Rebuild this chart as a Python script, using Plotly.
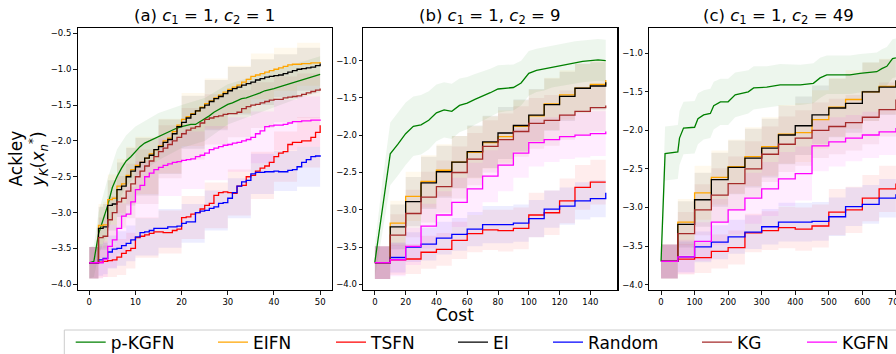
import plotly.graph_objects as go

# ---------------- data ----------------
METHODS = ["p-KGFN", "EIFN", "TSFN", "EI", "Random", "KG", "KGFN"]
COLORS = ["#008000", "#FFA500", "#FF0000", "#000000", "#0000FF", "#A52A2A", "#FF00FF"]

# panel (a): c1 = 1, c2 = 1
A_X = list(range(0, 51))
A_PKGFN = [-3.70, -3.68, -3.30, -3.10, -2.90, -2.65, -2.50, -2.38, -2.28, -2.22,
           -2.15, -2.08, -2.03, -2.00, -1.97, -1.94, -1.90, -1.87, -1.85, -1.82,
           -1.80, -1.78, -1.77, -1.77, -1.73, -1.70, -1.65, -1.60, -1.56, -1.52,
           -1.49, -1.47, -1.44, -1.41, -1.40, -1.38, -1.35, -1.33, -1.30, -1.29,
           -1.27, -1.25, -1.23, -1.21, -1.18, -1.16, -1.14, -1.12, -1.10, -1.09, -1.07]
A_EIFN = [-3.70, -3.70, -3.18, -3.17, -2.82, -2.80, -2.63, -2.60, -2.48, -2.40,
          -2.34, -2.30, -2.24, -2.18, -2.12, -2.07, -2.00, -1.96, -1.87, -1.78,
          -1.70, -1.66, -1.62, -1.58, -1.53, -1.48, -1.44, -1.40, -1.36, -1.32,
          -1.28, -1.25, -1.22, -1.18, -1.14, -1.10, -1.08, -1.06, -1.04, -1.02,
          -1.00, -0.98, -0.96, -0.94, -0.93, -0.93, -0.92, -0.92, -0.91, -0.91, -0.90]
A_TSFN = [-3.70, -3.70, -3.69, -3.68, -3.67, -3.66, -3.62, -3.57, -3.53, -3.50,
          -3.35, -3.33, -3.31, -3.29, -3.27, -3.27, -3.28, -3.28, -3.25, -3.23,
          -3.07, -3.06, -3.02, -3.00, -2.95, -2.90, -2.87, -2.76, -2.72, -2.71,
          -2.72, -2.73, -2.63, -2.62, -2.50, -2.48, -2.42, -2.38, -2.35, -2.30,
          -2.22, -2.17, -2.15, -2.05, -2.02, -2.02, -2.00, -2.00, -1.95, -1.88, -1.78]
A_EI = [-3.70, -3.70, -3.22, -3.20, -2.90, -2.88, -2.68, -2.63, -2.50, -2.42,
        -2.36, -2.30, -2.24, -2.20, -2.12, -2.08, -2.02, -1.98, -1.90, -1.80,
        -1.74, -1.68, -1.63, -1.58, -1.54, -1.50, -1.45, -1.41, -1.38, -1.34,
        -1.30, -1.27, -1.25, -1.22, -1.20, -1.18, -1.15, -1.13, -1.11, -1.10,
        -1.09, -1.08, -1.06, -1.04, -1.02, -1.00, -0.99, -0.98, -0.97, -0.95, -0.92]
A_RANDOM = [-3.70, -3.70, -3.66, -3.64, -3.55, -3.51, -3.50, -3.46, -3.43, -3.38,
            -3.34, -3.28, -3.27, -3.25, -3.22, -3.22, -3.22, -3.20, -3.20, -3.19,
            -3.15, -3.13, -3.13, -3.00, -2.98, -2.97, -2.94, -2.92, -2.87, -2.86,
            -2.80, -2.72, -2.63, -2.57, -2.55, -2.46, -2.44, -2.44, -2.43, -2.43,
            -2.42, -2.43, -2.43, -2.41, -2.40, -2.36, -2.30, -2.26, -2.22, -2.21, -2.20]
A_KG = [-3.70, -3.70, -3.35, -3.33, -3.10, -3.00, -2.85, -2.80, -2.70, -2.60,
        -2.50, -2.42, -2.35, -2.28, -2.22, -2.15, -2.10, -2.05, -2.00, -1.95,
        -1.90, -1.85, -1.82, -1.80, -1.75, -1.70, -1.68, -1.66, -1.65, -1.63,
        -1.62, -1.62, -1.60, -1.55, -1.52, -1.50, -1.49, -1.47, -1.45, -1.43,
        -1.42, -1.42, -1.40, -1.39, -1.38, -1.37, -1.35, -1.33, -1.31, -1.29, -1.27]
A_KGFN = [-3.70, -3.70, -3.70, -3.65, -3.47, -3.38, -3.22, -3.05, -3.02, -2.85,
          -2.68, -2.62, -2.50, -2.45, -2.40, -2.37, -2.34, -2.32, -2.30, -2.29,
          -2.27, -2.26, -2.25, -2.22, -2.20, -2.17, -2.12, -2.10, -2.08, -2.06,
          -2.05, -2.03, -2.02, -2.00, -1.98, -1.95, -1.90, -1.86, -1.80, -1.79,
          -1.78, -1.78, -1.77, -1.75, -1.73, -1.73, -1.72, -1.72, -1.71, -1.71, -1.70]
# standard deviations of panel (a), read at these costs
A_SD_X = [0, 1, 2, 3, 4, 6, 8, 10, 15, 20, 25, 30, 35, 40, 45, 50]
A_PKGFN_SD = [0.22, 0.22, 0.30, 0.35, 0.38, 0.38, 0.36, 0.35, 0.33, 0.30, 0.30, 0.28, 0.27, 0.26, 0.25, 0.25]
A_EIFN_SD = [0.22, 0.22, 0.30, 0.32, 0.35, 0.38, 0.40, 0.40, 0.38, 0.37, 0.35, 0.33, 0.32, 0.30, 0.30, 0.30]
A_TSFN_SD = [0.22, 0.22, 0.22, 0.22, 0.23, 0.25, 0.25, 0.28, 0.30, 0.30, 0.32, 0.32, 0.33, 0.35, 0.35, 0.35]
A_EI_SD = [0.22, 0.22, 0.30, 0.32, 0.35, 0.38, 0.40, 0.40, 0.38, 0.37, 0.35, 0.33, 0.32, 0.30, 0.30, 0.30]
A_RANDOM_SD = [0.22, 0.22, 0.22, 0.22, 0.23, 0.24, 0.25, 0.26, 0.27, 0.27, 0.28, 0.28, 0.28, 0.28, 0.28, 0.28]
A_KG_SD = [0.22, 0.22, 0.28, 0.30, 0.33, 0.36, 0.38, 0.38, 0.37, 0.36, 0.35, 0.33, 0.32, 0.32, 0.31, 0.30]
A_KGFN_SD = [0.22, 0.22, 0.22, 0.25, 0.30, 0.35, 0.38, 0.40, 0.40, 0.40, 0.38, 0.38, 0.36, 0.35, 0.35, 0.35]

# panel (b): c1 = 1, c2 = 9
B_X = list(range(0, 151, 10))
B_PKGFN_X = list(range(0, 151, 5))
B_PKGFN = [-3.70, -2.95, -2.25, -2.12, -1.98, -1.88, -1.86, -1.80, -1.70, -1.66,
           -1.68, -1.60, -1.57, -1.52, -1.48, -1.43, -1.38, -1.37, -1.36, -1.30,
           -1.17, -1.13, -1.11, -1.08, -1.06, -1.04, -1.02, -1.01, -1.00, -0.99, -1.00]
B_PKGFN_SD = [0.22, 0.35, 0.42, 0.42, 0.42, 0.40, 0.40, 0.39, 0.38, 0.37,
              0.37, 0.36, 0.35, 0.34, 0.33, 0.32, 0.32, 0.31, 0.31, 0.30,
              0.30, 0.29, 0.29, 0.28, 0.28, 0.28, 0.28, 0.28, 0.28, 0.28, 0.28]
B_EIFN = [-3.71, -3.18, -2.82, -2.62, -2.47, -2.36, -2.23, -2.10, -2.02, -1.88,
          -1.74, -1.58, -1.46, -1.37, -1.32, -1.26]
B_TSFN = [-3.71, -3.67, -3.66, -3.57, -3.53, -3.41, -3.32, -3.27, -3.28, -3.25,
          -3.07, -3.04, -2.88, -2.70, -2.63, -2.63]
B_EI = [-3.71, -3.23, -2.89, -2.64, -2.49, -2.36, -2.22, -2.09, -1.97, -1.87,
        -1.73, -1.59, -1.48, -1.37, -1.34, -1.29]
B_RANDOM = [-3.71, -3.64, -3.50, -3.46, -3.38, -3.33, -3.26, -3.20, -3.20, -3.18,
            -3.12, -2.99, -2.95, -2.88, -2.85, -2.77]
B_KG = [-3.71, -3.34, -3.05, -2.83, -2.69, -2.50, -2.32, -2.15, -2.06, -1.95,
        -1.84, -1.80, -1.73, -1.68, -1.63, -1.60]
B_KGFN = [-3.71, -3.67, -3.49, -3.22, -3.07, -2.90, -2.72, -2.55, -2.40, -2.24,
          -2.10, -2.06, -2.02, -2.00, -1.98, -1.95]
B_EIFN_SD = [0.22, 0.30, 0.33, 0.35, 0.35, 0.35, 0.35, 0.35, 0.35, 0.35, 0.35, 0.35, 0.33, 0.33, 0.32, 0.32]
B_TSFN_SD = [0.22, 0.20, 0.20, 0.22, 0.22, 0.25, 0.25, 0.27, 0.28, 0.28, 0.30, 0.30, 0.30, 0.30, 0.30, 0.30]
B_EI_SD = [0.22, 0.30, 0.33, 0.35, 0.35, 0.35, 0.35, 0.35, 0.35, 0.35, 0.35, 0.35, 0.33, 0.33, 0.32, 0.32]
B_RANDOM_SD = [0.22, 0.20, 0.20, 0.22, 0.22, 0.22, 0.23, 0.25, 0.25, 0.25, 0.25, 0.25, 0.25, 0.25, 0.25, 0.25]
B_KG_SD = [0.22, 0.28, 0.32, 0.34, 0.35, 0.35, 0.35, 0.35, 0.35, 0.34, 0.34, 0.34, 0.33, 0.33, 0.32, 0.32]
B_KGFN_SD = [0.22, 0.22, 0.25, 0.30, 0.32, 0.33, 0.35, 0.35, 0.35, 0.33, 0.32, 0.30, 0.30, 0.30, 0.30, 0.30]

# panel (c): c1 = 1, c2 = 49
C_X = list(range(0, 701, 50))
C_PKGFN_X = [0, 5, 12, 50, 55, 67, 100, 110, 127, 147, 157, 177, 200, 221, 260,
             276, 315, 355, 415, 454, 474, 494, 563, 593, 643, 658, 673, 690, 700]
C_PKGFN = [-3.70, -3.10, -2.30, -2.28, -2.10, -1.97, -1.96, -1.85, -1.80, -1.78,
           -1.68, -1.63, -1.63, -1.54, -1.50, -1.45, -1.44, -1.41, -1.41, -1.39,
           -1.32, -1.28, -1.28, -1.26, -1.24, -1.20, -1.17, -1.07, -1.06]
C_PKGFN_SD = [0.22, 0.30, 0.35, 0.35, 0.35, 0.34, 0.34, 0.33, 0.32, 0.32,
              0.31, 0.30, 0.30, 0.29, 0.28, 0.28, 0.27, 0.27, 0.26, 0.26,
              0.26, 0.25, 0.25, 0.25, 0.25, 0.25, 0.25, 0.25, 0.25]
C_EIFN = [-3.70, -3.19, -2.81, -2.61, -2.47, -2.34, -2.21, -2.05, -2.03, -1.86,
          -1.70, -1.60, -1.50, -1.43, -1.36]
C_TSFN = [-3.70, -3.67, -3.65, -3.57, -3.52, -3.33, -3.30, -3.26, -3.28, -3.24,
          -3.06, -3.03, -2.88, -2.76, -2.69]
C_EI = [-3.70, -3.22, -2.90, -2.64, -2.48, -2.36, -2.23, -2.06, -1.94, -1.80,
        -1.71, -1.65, -1.50, -1.44, -1.35]
C_RANDOM = [-3.70, -3.64, -3.51, -3.45, -3.38, -3.32, -3.25, -3.19, -3.19, -3.18,
            -3.12, -2.99, -2.96, -2.88, -2.83]
C_KG = [-3.70, -3.34, -3.03, -2.84, -2.69, -2.50, -2.31, -2.18, -2.10, -2.00,
        -1.95, -1.90, -1.83, -1.73, -1.60]
C_KGFN = [-3.70, -3.64, -3.44, -3.19, -3.03, -2.88, -2.76, -2.63, -2.56, -2.20,
          -2.15, -2.10, -2.06, -2.02, -1.97]
C_EIFN_SD = [0.22, 0.30, 0.35, 0.35, 0.35, 0.38, 0.38, 0.38, 0.38, 0.38, 0.38, 0.38, 0.38, 0.36, 0.35]
C_TSFN_SD = [0.22, 0.20, 0.20, 0.22, 0.22, 0.25, 0.25, 0.27, 0.28, 0.28, 0.30, 0.30, 0.30, 0.30, 0.30]
C_EI_SD = [0.22, 0.30, 0.35, 0.35, 0.35, 0.38, 0.38, 0.38, 0.38, 0.38, 0.38, 0.38, 0.38, 0.36, 0.35]
C_RANDOM_SD = [0.22, 0.20, 0.20, 0.22, 0.22, 0.22, 0.23, 0.25, 0.25, 0.25, 0.25, 0.25, 0.25, 0.25, 0.25]
C_KG_SD = [0.22, 0.28, 0.33, 0.35, 0.35, 0.36, 0.36, 0.36, 0.36, 0.36, 0.36, 0.36, 0.35, 0.35, 0.34]
C_KGFN_SD = [0.22, 0.22, 0.25, 0.30, 0.32, 0.33, 0.35, 0.35, 0.35, 0.33, 0.32, 0.30, 0.30, 0.30, 0.30]

Y_TICKS_A = [-4.0, -3.5, -3.0, -2.5, -2.0, -1.5, -1.0, -0.5]
Y_TICKS_BC = [-4.0, -3.5, -3.0, -2.5, -2.0, -1.5, -1.0]
X_TICKS_A = [0, 10, 20, 30, 40, 50]
X_TICKS_B = [0, 20, 40, 60, 80, 100, 120, 140]
X_TICKS_C = [0, 100, 200, 300, 400, 500, 600, 700]

# ---------------- figure ----------------
W, H = 896, 354
FONT = "DejaVu Sans"


def px_x(p):
    return p / W


def px_y(p):
    return 1 - p / H


def rgba(hexc, a):
    h = hexc.lstrip("#")
    return "rgba(%d,%d,%d,%s)" % (int(h[0:2], 16), int(h[2:4], 16), int(h[4:6], 16), a)


panels = [
    dict(ax="x", ay="y",
         series=[(A_X, A_PKGFN, A_SD_X, A_PKGFN_SD, "linear"),
                 (A_X, A_EIFN, A_SD_X, A_EIFN_SD, "hv"),
                 (A_X, A_TSFN, A_SD_X, A_TSFN_SD, "hv"),
                 (A_X, A_EI, A_SD_X, A_EI_SD, "hv"),
                 (A_X, A_RANDOM, A_SD_X, A_RANDOM_SD, "hv"),
                 (A_X, A_KG, A_SD_X, A_KG_SD, "hv"),
                 (A_X, A_KGFN, A_SD_X, A_KGFN_SD, "hv")]),
    dict(ax="x2", ay="y2",
         series=[(B_PKGFN_X, B_PKGFN, B_PKGFN_X, B_PKGFN_SD, "linear"),
                 (B_X, B_EIFN, B_X, B_EIFN_SD, "hv"),
                 (B_X, B_TSFN, B_X, B_TSFN_SD, "hv"),
                 (B_X, B_EI, B_X, B_EI_SD, "hv"),
                 (B_X, B_RANDOM, B_X, B_RANDOM_SD, "hv"),
                 (B_X, B_KG, B_X, B_KG_SD, "hv"),
                 (B_X, B_KGFN, B_X, B_KGFN_SD, "hv")]),
    dict(ax="x3", ay="y3",
         series=[(C_PKGFN_X, C_PKGFN, C_PKGFN_X, C_PKGFN_SD, "linear"),
                 (C_X, C_EIFN, C_X, C_EIFN_SD, "hv"),
                 (C_X, C_TSFN, C_X, C_TSFN_SD, "hv"),
                 (C_X, C_EI, C_X, C_EI_SD, "hv"),
                 (C_X, C_RANDOM, C_X, C_RANDOM_SD, "hv"),
                 (C_X, C_KG, C_X, C_KG_SD, "hv"),
                 (C_X, C_KGFN, C_X, C_KGFN_SD, "hv")]),
]

fig = go.Figure()
LEGEND_IDS = ["legend", "legend2", "legend3", "legend4", "legend5", "legend6", "legend7"]

for pi, p in enumerate(panels):
    # bands
    for mi, (xs, ys, sx, sd, shape) in enumerate(p["series"]):
        idx = [xs.index(v) for v in sx]
        lo = [ys[i] - s for i, s in zip(idx, sd)]
        hi = [ys[i] + s for i, s in zip(idx, sd)]
        fig.add_trace(go.Scatter(x=sx, y=lo, mode="lines", line=dict(width=0, shape=shape),
                                 xaxis=p["ax"], yaxis=p["ay"], showlegend=False, hoverinfo="skip"))
        fig.add_trace(go.Scatter(x=sx, y=hi, mode="lines", line=dict(width=0, shape=shape),
                                 fill="tonexty", fillcolor=rgba(COLORS[mi], 0.07),
                                 xaxis=p["ax"], yaxis=p["ay"], showlegend=False, hoverinfo="skip"))
    # mean lines
    for mi, (xs, ys, sx, sd, shape) in enumerate(p["series"]):
        fig.add_trace(go.Scatter(x=xs, y=ys, mode="lines", name=METHODS[mi],
                                 line=dict(color=COLORS[mi], width=1.3, shape=shape),
                                 xaxis=p["ax"], yaxis=p["ay"], hoverinfo="skip",
                                 showlegend=(pi == 0), legend=LEGEND_IDS[mi]))

axis_common = dict(showgrid=False, zeroline=False, showline=True, linecolor="black", linewidth=1.2,
                   ticks="outside", ticklen=3.5, tickwidth=0.9, tickcolor="black", automargin=False,
                   ticklabeloverflow="allow",
                   tickfont=dict(family=FONT, size=8.5, color="black"))

# axes pixel boxes
TOP, BOT = 27.7, 290.0
BOXES = [(77.7, 331.7), (363.3, 617.3), (649.3, 896.0)]
layout = dict(
    width=W, height=H, margin=dict(l=0, r=0, t=0, b=0, autoexpand=False),
    paper_bgcolor="white", plot_bgcolor="white",
    font=dict(family=FONT, color="black"),
    xaxis=dict(domain=[px_x(BOXES[0][0]), px_x(BOXES[0][1])], range=[-2.5, 52.5], anchor="y",
               tickvals=X_TICKS_A, mirror=True, **axis_common),
    yaxis=dict(domain=[px_y(BOT), px_y(TOP)], range=[-4.08, -0.42], anchor="x",
               tickvals=Y_TICKS_A, tickformat=".1f", mirror=True, **axis_common),
    xaxis2=dict(domain=[px_x(BOXES[1][0]), px_x(BOXES[1][1])], range=[-7.5, 157.5], anchor="y2",
                tickvals=X_TICKS_B, mirror=True, **axis_common),
    yaxis2=dict(domain=[px_y(BOT), px_y(TOP)], range=[-4.076, -0.558], anchor="x2",
                tickvals=Y_TICKS_BC, tickformat=".1f", mirror=True, **axis_common),
    xaxis3=dict(domain=[px_x(BOXES[2][0]), 1.0], range=[-35, 700.3], anchor="y3",
                tickvals=X_TICKS_C, mirror=True, **axis_common),
    yaxis3=dict(domain=[px_y(BOT), px_y(TOP)], range=[-4.07, -0.669], anchor="x3",
                tickvals=Y_TICKS_BC, tickformat=".1f", mirror=False, **axis_common),
)

# legends: one entry each, placed along the bottom box
LEG_LINE_START = [70.7, 213.0, 331.0, 453.0, 548.0, 697.0, 802.0]
for lid, sx in zip(LEGEND_IDS, LEG_LINE_START):
    layout[lid] = dict(x=px_x(sx), y=px_y(342.5), xanchor="left", yanchor="middle",
                       xref="container", yref="container",
                       orientation="h", bgcolor="rgba(0,0,0,0)", borderwidth=0,
                       font=dict(family=FONT, size=17, color="black"),
                       itemclick=False, itemdoubleclick=False)

fig.update_layout(**layout)

# legend frame
fig.add_shape(type="rect", xref="paper", yref="paper",
              x0=px_x(64.3), x1=px_x(905), y0=px_y(362), y1=px_y(330),
              line=dict(color="#cccccc", width=1), fillcolor="rgba(0,0,0,0)", layer="below")

# titles
TITLES = ["(a) <i>c</i><sub>1</sub> = 1, <i>c</i><sub>2</sub> = 1",
          "(b) <i>c</i><sub>1</sub> = 1, <i>c</i><sub>2</sub> = 9",
          "(c) <i>c</i><sub>1</sub> = 1, <i>c</i><sub>2</sub> = 49"]
TITLE_CX = [(BOXES[0][0] + BOXES[0][1]) / 2, (BOXES[1][0] + BOXES[1][1]) / 2, (649.3 + 907.7) / 2]
for t, cx in zip(TITLES, TITLE_CX):
    fig.add_annotation(text=t, xref="paper", yref="paper", x=px_x(cx), y=px_y(17),
                       xanchor="center", yanchor="middle", showarrow=False,
                       font=dict(family=FONT, size=16.5, color="black"))

# y label
fig.add_annotation(text="Ackley<br><i>y</i><sub><i>K</i></sub>(<i>x</i><sub><i>n</i></sub><sup>*</sup>)",
                   xref="paper", yref="paper", x=px_x(28), y=px_y(159), textangle=-90,
                   xanchor="center", yanchor="middle", showarrow=False,
                   font=dict(family=FONT, size=17, color="black"))
# x label
fig.add_annotation(text="Cost", xref="paper", yref="paper", x=px_x(455), y=px_y(315),
                   xanchor="center", yanchor="middle", showarrow=False,
                   font=dict(family=FONT, size=17, color="black"))

fig.write_html("out.html", config={"displayModeBar": False, "staticPlot": True},
               post_script="document.body.style.margin='0';document.body.style.overflow='hidden';")
